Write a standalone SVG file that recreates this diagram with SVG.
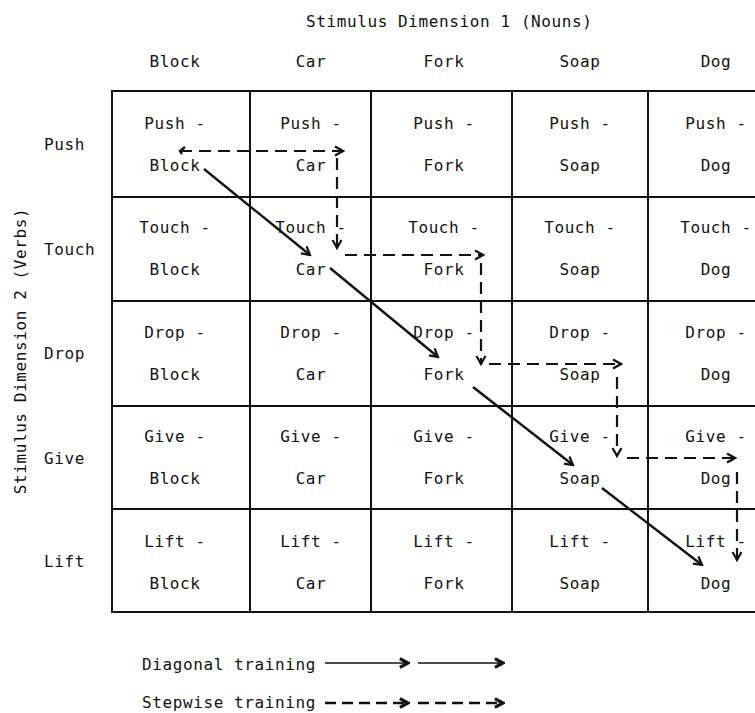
<svg xmlns="http://www.w3.org/2000/svg" width="755" height="713" viewBox="0 0 755 713">
<style>
text{font-family:"DejaVu Sans Mono","Liberation Mono",monospace;font-size:16px;letter-spacing:0.6px;fill:#111}
.c{text-anchor:middle}
.grid{stroke:#111;stroke-width:2;fill:none}
.diag{stroke:#111;stroke-width:2.4;fill:none}
.step{stroke:#111;stroke-width:2.2;fill:none;stroke-dasharray:12 7}
.leg{stroke:#111;stroke-width:1.4;fill:none}
.legd{stroke:#111;stroke-width:2.6;fill:none;stroke-dasharray:11 6}
</style>
<defs>
<marker id="ah" viewBox="0 0 12 12" refX="10" refY="6" markerWidth="12" markerHeight="12" markerUnits="userSpaceOnUse" orient="auto">
<path d="M2,1.5 L10,6 L2,10.5" fill="none" stroke="#111" stroke-width="2.2"/>
</marker>
<marker id="ahb" viewBox="0 0 12 12" refX="10" refY="6" markerWidth="13" markerHeight="13" markerUnits="userSpaceOnUse" orient="auto">
<path d="M2.5,2 L10,6 L2.5,10" fill="none" stroke="#111" stroke-width="3"/>
</marker>
</defs>
<rect width="755" height="713" fill="#fff"/>
<g id="titles">
<text x="306" y="27">Stimulus Dimension 1 (Nouns)</text>
<text class="c" transform="translate(26,351) rotate(-90)">Stimulus Dimension 2 (Verbs)</text>
</g>
<g id="col-headers">
<text class="c" x="175" y="67">Block</text>
<text class="c" x="311" y="67">Car</text>
<text class="c" x="444" y="67">Fork</text>
<text class="c" x="580" y="67">Soap</text>
<text class="c" x="716" y="67">Dog</text>
</g>
<g id="row-headers">
<text x="44" y="150">Push</text>
<text x="44" y="255">Touch</text>
<text x="44" y="359">Drop</text>
<text x="44" y="464">Give</text>
<text x="44" y="567">Lift</text>
</g>
<g id="grid">
<path class="grid" d="M112,91 H757 M112,197 H757 M112,301 H757 M112,406 H757 M112,509 H757 M112,612 H757"/>
<path class="grid" d="M112,90 V613 M250,91 V612 M371,91 V612 M512,91 V612 M648,91 V612"/>
</g>
<g id="cells">
<g id="r1">
<text class="c" x="175" y="129">Push -</text><text class="c" x="175" y="171">Block</text>
<text class="c" x="311" y="129">Push -</text><text class="c" x="311" y="171">Car</text>
<text class="c" x="444" y="129">Push -</text><text class="c" x="444" y="171">Fork</text>
<text class="c" x="580" y="129">Push -</text><text class="c" x="580" y="171">Soap</text>
<text class="c" x="716" y="129">Push -</text><text class="c" x="716" y="171">Dog</text>
</g>
<g id="r2">
<text class="c" x="175" y="233">Touch -</text><text class="c" x="175" y="275">Block</text>
<text class="c" x="311" y="233">Touch -</text><text class="c" x="311" y="275">Car</text>
<text class="c" x="444" y="233">Touch -</text><text class="c" x="444" y="275">Fork</text>
<text class="c" x="580" y="233">Touch -</text><text class="c" x="580" y="275">Soap</text>
<text class="c" x="716" y="233">Touch -</text><text class="c" x="716" y="275">Dog</text>
</g>
<g id="r3">
<text class="c" x="175" y="338">Drop -</text><text class="c" x="175" y="380">Block</text>
<text class="c" x="311" y="338">Drop -</text><text class="c" x="311" y="380">Car</text>
<text class="c" x="444" y="338">Drop -</text><text class="c" x="444" y="380">Fork</text>
<text class="c" x="580" y="338">Drop -</text><text class="c" x="580" y="380">Soap</text>
<text class="c" x="716" y="338">Drop -</text><text class="c" x="716" y="380">Dog</text>
</g>
<g id="r4">
<text class="c" x="175" y="442">Give -</text><text class="c" x="175" y="484">Block</text>
<text class="c" x="311" y="442">Give -</text><text class="c" x="311" y="484">Car</text>
<text class="c" x="444" y="442">Give -</text><text class="c" x="444" y="484">Fork</text>
<text class="c" x="580" y="442">Give -</text><text class="c" x="580" y="484">Soap</text>
<text class="c" x="716" y="442">Give -</text><text class="c" x="716" y="484">Dog</text>
</g>
<g id="r5">
<text class="c" x="175" y="547">Lift -</text><text class="c" x="175" y="589">Block</text>
<text class="c" x="311" y="547">Lift -</text><text class="c" x="311" y="589">Car</text>
<text class="c" x="444" y="547">Lift -</text><text class="c" x="444" y="589">Fork</text>
<text class="c" x="580" y="547">Lift -</text><text class="c" x="580" y="589">Soap</text>
<text class="c" x="716" y="547">Lift -</text><text class="c" x="716" y="589">Dog</text>
</g>
</g>
<g id="connectors">
<g id="diagonal">
<path class="diag" marker-end="url(#ah)" d="M204,169 L310,255"/>
<path class="diag" marker-end="url(#ah)" d="M330,268 L438,357"/>
<path class="diag" marker-end="url(#ah)" d="M473,387 L573,465"/>
<path class="diag" marker-end="url(#ah)" d="M602,488 L702,565"/>
</g>
<g id="stepwise">
<path class="diag" d="M185,147 L180,151 L182,154"/>
<path class="step" marker-end="url(#ah)" d="M180,151 L343,151"/>
<path class="step" marker-end="url(#ah)" d="M337,158 L337,248"/>
<path class="step" marker-end="url(#ah)" d="M345,255 L483,255"/>
<path class="step" marker-end="url(#ah)" d="M481,263 L481,364"/>
<path class="step" marker-end="url(#ah)" d="M489,364 L621,364"/>
<path class="step" marker-end="url(#ah)" d="M617,377 L617,456"/>
<path class="step" marker-end="url(#ah)" d="M627,458 L735,458"/>
<path class="step" marker-end="url(#ah)" d="M737,472 L737,560"/>
</g>
</g>
<g id="legend">
<text x="142" y="670">Diagonal training</text>
<text x="142" y="708">Stepwise training</text>
<path class="leg" marker-end="url(#ahb)" d="M325,663 L408,663"/>
<path class="leg" marker-end="url(#ahb)" d="M418,663 L503,663"/>
<path class="legd" marker-end="url(#ahb)" d="M325,703 L408,703" stroke-dasharray="7 8 12 5 12 5"/>
<path class="legd" marker-end="url(#ahb)" d="M418,703 L503,703" stroke-dasharray="14 5 13 5 13 5 13 5"/>
</g>
</svg>
